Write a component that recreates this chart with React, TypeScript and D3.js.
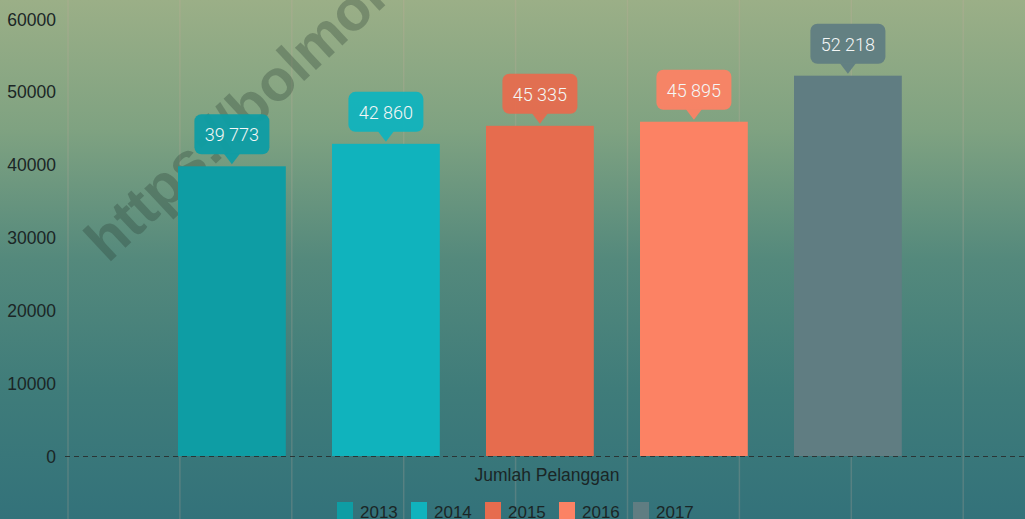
import React from "react";
import * as d3 from "d3";

const years = ["2013", "2014", "2015", "2016", "2017"];
const values = [39773, 42860, 45335, 45895, 52218];
const colors = ["#0E9DA4", "#10B3BD", "#E66C4E", "#FC8264", "#607D82"];
const yTicks = [0, 10000, 20000, 30000, 40000, 50000, 60000];
const categoryLabel = "Jumlah Pelanggan";
const watermark = "https://bolmongkab.go.id";

const W = 1025;
const H = 519;

export default function App() {
  const y = d3.scaleLinear().domain([0, 60000]).range([456, 19]);
  const x = d3
    .scaleBand<string>()
    .domain(years)
    .range([154.9, 924.9])
    .paddingInner(0.3)
    .paddingOuter(0.15);
  const fmt = (v: number) => d3.format(",")(v).replace(/,/g, " ");
  const gridXs = d3.range(9).map((i) => 68 + i * 111.9);
  const textColor = "#1b2626";

  return (
    <svg
      width={W}
      height={H}
      style={{ position: "absolute", left: 0, top: 0, display: "block" }}
      fontFamily="'Liberation Sans', Arial, sans-serif"
    >
      <defs>
        <linearGradient id="bg" x1="0" y1="0" x2="0" y2="1">
          <stop offset="0" stopColor="#9BAF87" />
          <stop offset="0.25" stopColor="#7FA281" />
          <stop offset="0.5" stopColor="#54897C" />
          <stop offset="0.75" stopColor="#3F7C7A" />
          <stop offset="1" stopColor="#33727A" />
        </linearGradient>
      </defs>
      <rect x={0} y={0} width={W} height={H} fill="url(#bg)" />
      {gridXs.map((gx, i) => (
        <line
          key={i}
          x1={gx}
          x2={gx}
          y1={0}
          y2={H}
          stroke="rgba(205,175,160,0.22)"
          strokeWidth={1.5}
        />
      ))}
      {/* watermark */}
      <text
        transform="translate(108,264) rotate(-43)"
        fontSize={58}
        fontWeight="bold"
        fill="rgba(40,60,50,0.3)"
        fontFamily="'Liberation Sans', Arial, sans-serif"
      >
        {watermark}
      </text>
      {/* y tick labels */}
      {yTicks.map((t) => (
        <text
          key={t}
          x={56}
          y={y(t) + 6.5}
          textAnchor="end"
          fontSize={17.5}
          fill={textColor}
        >
          {t}
        </text>
      ))}
      {/* bars */}
      {years.map((yr, i) => (
        <rect
          key={yr}
          x={x(yr)}
          y={y(values[i])}
          width={x.bandwidth()}
          height={y(0) - y(values[i])}
          fill={colors[i]}
        />
      ))}
      {/* zero line */}
      <line
        x1={65}
        x2={W}
        y1={y(0) + 0.5}
        y2={y(0) + 0.5}
        stroke="#2a3535"
        strokeWidth={1.2}
        strokeDasharray="5,4"
      />
      {/* callouts */}
      {years.map((yr, i) => {
        const cx = (x(yr) as number) + x.bandwidth() / 2;
        const tip = y(values[i]) - 2;
        const bBottom = tip - 10;
        const bTop = bBottom - 40;
        const bw = 75;
        return (
          <g key={yr}>
            <rect
              x={cx - bw / 2}
              y={bTop}
              width={bw}
              height={40}
              rx={7}
              fill={colors[i]}
              opacity={0.95}
            />
            <path
              d={`M${cx - 8},${bBottom - 0.5}L${cx},${tip}L${cx + 8},${bBottom - 0.5}Z`}
              fill={colors[i]}
              opacity={0.95}
            />
            <text
              x={cx}
              y={bTop + 27}
              textAnchor="middle"
              fontSize={18}
              fontWeight={300}
              fill="#F4F7F6"
              fontFamily="Roboto, 'Liberation Sans', sans-serif"
            >
              {fmt(values[i])}
            </text>
          </g>
        );
      })}
      {/* category label */}
      <text x={547} y={481} textAnchor="middle" fontSize={17.5} fill={textColor}>
        {categoryLabel}
      </text>
      {/* legend */}
      {years.map((yr, i) => (
        <g key={yr} transform={`translate(${337 + i * 74},502)`}>
          <rect x={0} y={0} width={16} height={17} fill={colors[i]} />
          <text x={23} y={16} fontSize={17} fill={textColor}>
            {yr}
          </text>
        </g>
      ))}
    </svg>
  );
}
